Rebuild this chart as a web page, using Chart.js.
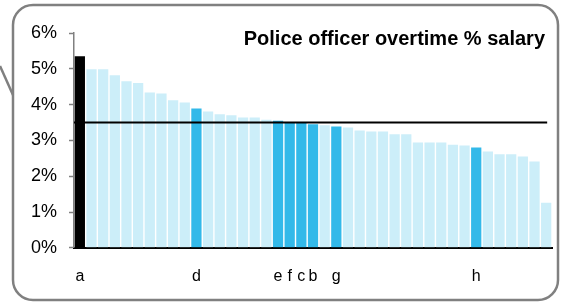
<!DOCTYPE html>
<html>
<head>
<meta charset="utf-8">
<script src="https://cdn.jsdelivr.net/npm/chart.js@4/dist/chart.umd.min.js"></script>
<style>
  html, body { margin: 0; padding: 0; background: #fff; }
  #wrap { width: 563px; height: 303px; }
</style>
</head>
<body>
<div id="wrap"><canvas id="chart" width="563" height="303"></canvas></div>
<script>
// data
const labels = ['a', '', '', '', '', '', '', '', '', '', 'd', '', '', '', '', '', '', 'e', 'f', 'c', 'b', '', 'g', '', '', '', '', '', '', '', '', '', '', '', 'h', '', '', '', '', '', ''];
const overtimePct = [5.35, 4.99, 4.99, 4.82, 4.65, 4.60, 4.34, 4.31, 4.12, 4.06, 3.89, 3.81, 3.73, 3.70, 3.64, 3.64, 3.58, 3.55, 3.49, 3.49, 3.45, 3.42, 3.39, 3.36, 3.28, 3.25, 3.25, 3.17, 3.17, 2.94, 2.94, 2.94, 2.88, 2.86, 2.80, 2.69, 2.61, 2.61, 2.55, 2.41, 1.26];
const yTicks = [0, 1, 2, 3, 4, 5, 6];
const average = 3.5;
const benchmark = 'a';
const highlighted = ['d', 'e', 'f', 'c', 'b', 'g', 'h'];
const title = 'Police officer overtime % salary';

const barColors = labels.map(l => {
    if (l === benchmark) return '#000000';
    if (highlighted.includes(l)) return '#33b9e9';
    return '#cceef9';
});

// rounded box + callout tail
const framePlugin = {
    id: 'frame',
    beforeDraw(chart) {
        const ctx = chart.ctx;
        ctx.save();
        ctx.fillStyle = '#fff';
        ctx.fillRect(0, 0, chart.width, chart.height);
        ctx.strokeStyle = '#808080';
        ctx.lineWidth = 2.5;
        ctx.beginPath();
        ctx.moveTo(0, 66);
        ctx.lineTo(13, 95);
        ctx.stroke();
        ctx.beginPath();
        ctx.roundRect(13, 5, 545, 295, 20);
        ctx.stroke();
        ctx.restore();
    }
};

// average line and title inside the plot
const overlayPlugin = {
    id: 'overlay',
    afterDatasetsDraw(chart) {
        const ctx = chart.ctx;
        const x = chart.scales.x;
        const y = chart.scales.y;
        const area = chart.chartArea;
        ctx.save();
        ctx.strokeStyle = '#000';
        ctx.lineWidth = 2.2;
        ctx.beginPath();
        ctx.moveTo(area.left, y.getPixelForValue(average));
        ctx.lineTo(x.getPixelForValue(labels.length - 1) + 1, y.getPixelForValue(average));
        ctx.stroke();

        ctx.fillStyle = '#000';
        ctx.font = 'bold 20px "Liberation Sans", Arial, sans-serif';
        ctx.textAlign = 'right';
        ctx.textBaseline = 'alphabetic';
        ctx.fillText(title, area.right - 7, area.top + 12);
        ctx.restore();
    }
};

new Chart(document.getElementById('chart'), {
    type: 'bar',
    data: {
        labels: labels,
        datasets: [{
            data: overtimePct,
            backgroundColor: barColors,
            categoryPercentage: 1,
            barPercentage: 0.88
        }]
    },
    options: {
        responsive: false,
        animation: false,
        layout: { padding: { top: 33, right: 11, bottom: 6, left: 19 } },
        plugins: {
            legend: { display: false },
            tooltip: { enabled: false }
        },
        scales: {
            x: {
                grid: { display: false },
                border: { display: true, color: '#000', width: 2 },
                ticks: {
                    autoSkip: false,
                    maxRotation: 0,
                    padding: 11,
                    color: '#000',
                    font: { family: '"Liberation Sans", Arial, sans-serif', size: 16 }
                }
            },
            y: {
                min: 0,
                max: 6,
                afterBuildTicks(scale) {
                    scale.ticks = yTicks.map(v => ({ value: v }));
                },
                grid: { drawOnChartArea: false, drawTicks: true, tickLength: 5, tickColor: '#808080', tickWidth: 1.5 },
                border: { display: true, color: '#808080', width: 1.5 },
                ticks: {
                    padding: 12,
                    color: '#000',
                    font: { family: '"Liberation Sans", Arial, sans-serif', size: 18 },
                    callback: v => v + '%'
                }
            }
        }
    },
    plugins: [framePlugin, overlayPlugin]
});
</script>
</body>
</html>
